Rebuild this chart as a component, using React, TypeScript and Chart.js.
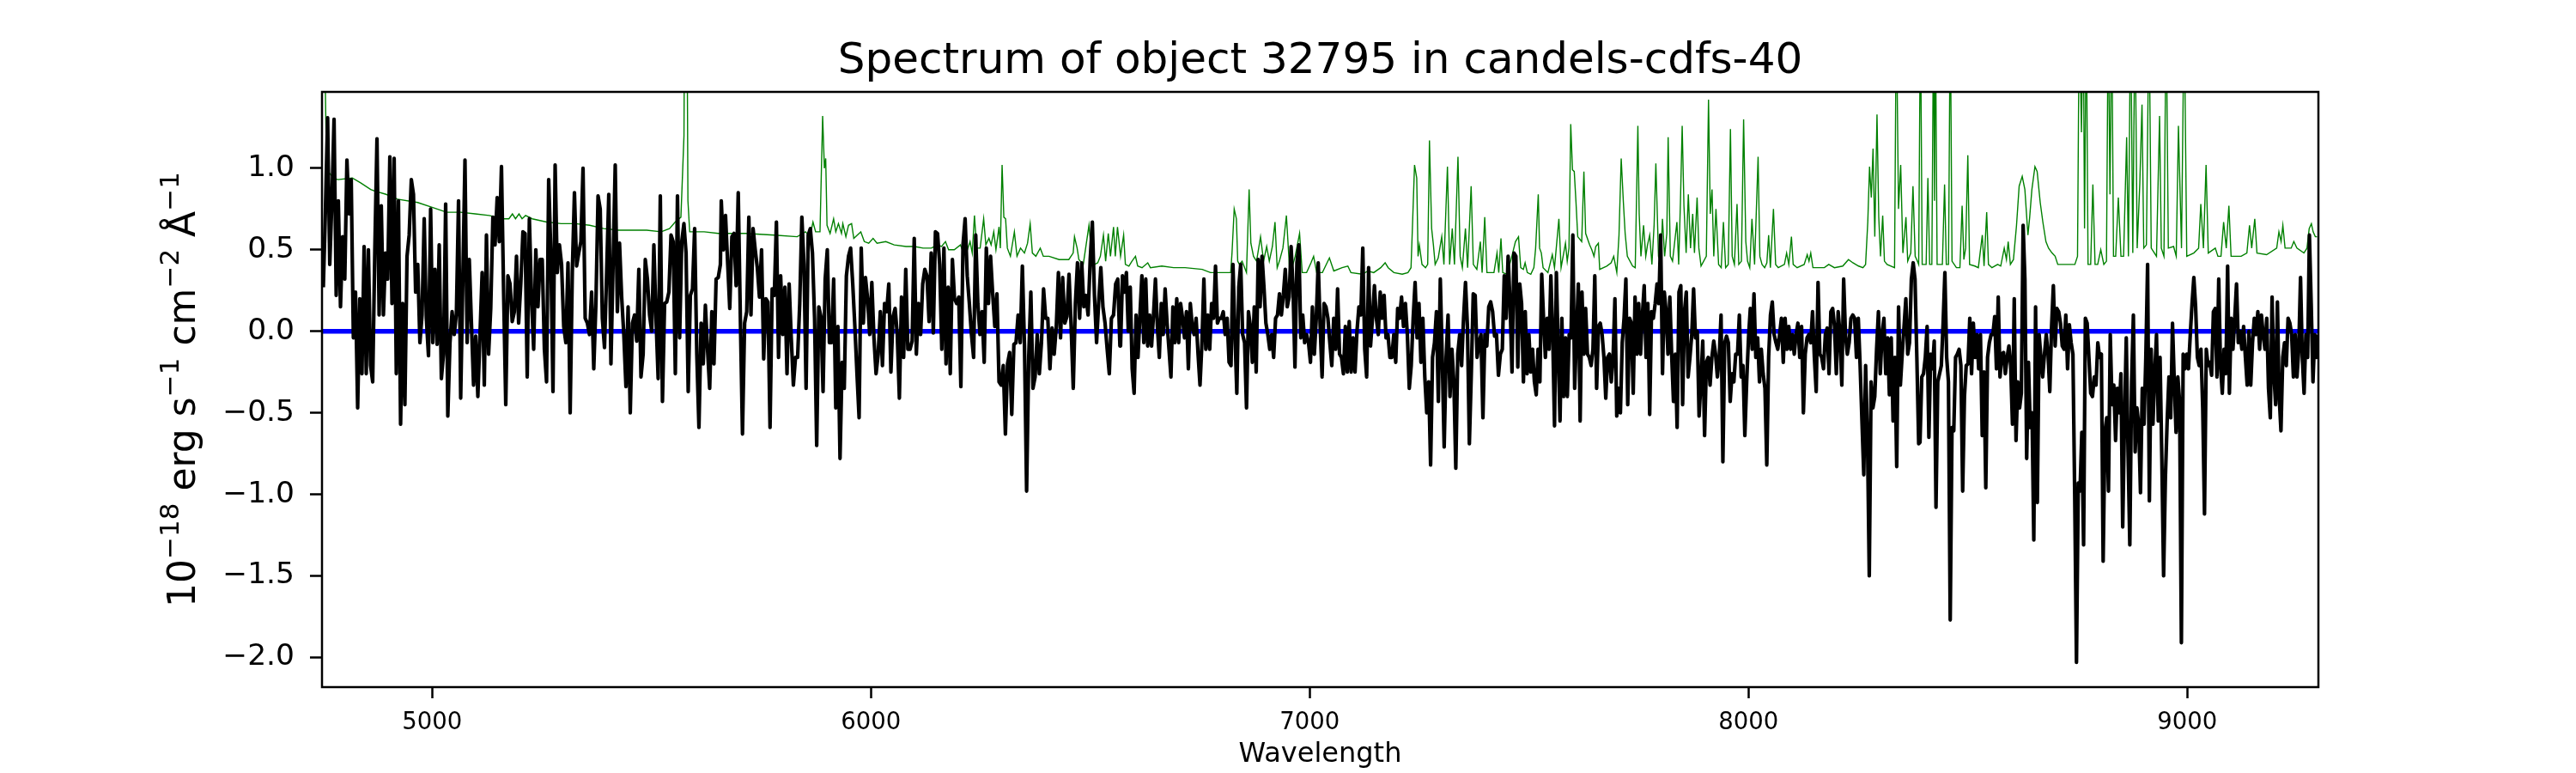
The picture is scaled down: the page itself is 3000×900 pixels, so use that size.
import { useEffect, useRef } from 'react'
import { Chart, registerables } from 'chart.js'

Chart.register(...registerables)

const FONT = '"DejaVu Sans", "Liberation Sans", sans-serif'
const TITLE = 'Spectrum of object 32795 in candels-cdfs-40'
const X_LABEL = 'Wavelength'
// y label pieces: [text, superscript?]
const Y_LABEL: [string, boolean][] = [
  ['10', false], ['\u221218', true], [' erg s', false], ['\u22121', true],
  [' cm', false], ['\u22122', true], [' \u00c5', false], ['\u22121', true],
]

const X_MIN = 4749
const X_MAX = 9299
const Y_MIN = -2.182
const Y_MAX = 1.468
const X_TICKS = [5000, 6000, 7000, 8000, 9000]
const Y_TICKS = [-2.0, -1.5, -1.0, -0.5, 0.0, 0.5, 1.0]

const SEG_START = [4752, 5659, 6569, 7483, 8391]
const SEG_END = [5657, 6567.5, 7478.8, 8388, 9298.8]

const FLUX_A = [
  0.27, 0.75, 1.31, 0.41, 0.8, 1.3, 0.22, 0.8, 0.15, 0.58, 0.32, 1.05, 0.72, 0.93, -0.04, 0.24, -0.47, 0.2, -0.26, 0.52,
  -0.26, 0.5, -0.21, -0.31, 0.5, 1.18, 0.1, 0.77, 0.1, 0.48, 0.32, 1.07, 0.17, 1.06, -0.26, 0.8, -0.57, 0.17, -0.45, 0.46,
  0.59, 0.93, 0.84, 0.24, 0.41, -0.07, 0.1, 0.69, 0.08, -0.15, 0.75, -0.07, 0.38, -0.08, 0.53, -0.29, -0.14, 0.78, -0.52, -0.07,
  0.12, -0.02, 0.11, 0.8, -0.41, 0.32, 1.05, -0.07, 0.44, 0.05, -0.33, -0.03, -0.4, -0.02, 0.36, -0.33, 0.59, -0.14, 0.14, 0.7,
  0.53, 0.82, 0.55, 1.01, 0.24, -0.45, 0.34, 0.29, 0.06, 0.12, 0.46, 0.05, 0.29, 0.61, 0.6, -0.28, 0.69, 0.21, -0.11, 0.5,
  0.15, 0.44, 0.44, -0.11, -0.31, 0.93, 0.48, -0.37, 1.02, 0.36, 0.53, 0.41, 0.03, -0.07, 0.42, -0.5, 0.36, 0.85, 0.4, 0.48,
  0.55, 1.0, 0.08, 0.05, -0.02, 0.24, -0.23, 0.17, 0.83, 0.75, 0.08, -0.1, 0.36, 0.84, -0.2, 0.41, 1.02, 0.12, 0.54, 0.21,
  -0.02, -0.34, 0.15, -0.5, 0.05, 0.1, -0.06, 0.38, -0.28, -0.14, 0.44, 0.32, 0.1, 0.0, 0.53, 0.08, -0.29, 0.83, -0.43, 0.17,
  0.18, 0.24, 0.59, 0.55, -0.26, 0.83, -0.04, 0.55, 0.66, 0.48, -0.37, 0.22, 0.26, 0.63, -0.14, -0.59, 0.05, -0.2, 0.16, -0.11,
  -0.35, 0.12, -0.2, 0.32, 0.33, 0.41,
]
const FLUX_B = [
  0.8, 0.5, 0.71, 0.42, 0.14, 0.58, 0.6, 0.28, 0.85, 0.08, -0.63, 0.05, 0.12, 0.7, 0.1, 0.63, 0.5, 0.39, 0.21, 0.5,
  -0.17, 0.2, 0.18, -0.59, 0.26, 0.22, 0.67, -0.16, 0.34, -0.02, 0.27, -0.26, 0.29, -0.04, -0.33, -0.16, -0.16, 0.17, 0.7, 0.41,
  -0.35, 0.59, 0.63, 0.48, 0.08, -0.7, 0.15, 0.09, -0.37, 0.32, 0.5, -0.07, -0.07, 0.32, -0.47, 0.03, -0.78, -0.19, -0.35, 0.34,
  0.46, 0.51, 0.29, 0.03, -0.26, -0.53, 0.51, 0.05, 0.33, 0.2, -0.02, 0.3, -0.04, -0.26, -0.14, 0.12, -0.21, 0.17, 0.12, 0.29,
  -0.25, 0.09, 0.14, -0.02, -0.41, 0.21, -0.16, 0.38, -0.11, -0.11, -0.06, 0.57, -0.14, 0.17, -0.02, 0.29, 0.38, 0.34, 0.06, 0.48,
  -0.01, 0.61, 0.6, 0.41, -0.11, 0.51, -0.2, 0.27, -0.26, 0.44, 0.2, 0.17, 0.21, -0.34, 0.53, 0.69, 0.34, 0.17, -0.02, -0.16,
  0.59, 0.17, -0.02, 0.12, -0.19, 0.51, 0.17, 0.46, 0.23, 0.03, 0.23, -0.31, -0.33, -0.21, -0.63, -0.2, -0.13, -0.51, -0.08, -0.07,
  0.1, -0.07, 0.4, -0.09, -0.98, -0.16, 0.24, -0.35, -0.28, -0.02, -0.26, -0.07, 0.26, 0.08, 0.08, -0.23, 0.02, -0.14, 0.03, 0.36,
  -0.04, 0.33, 0.05, 0.09, 0.35, 0.03, -0.35, 0.17, 0.42, 0.08, 0.42, 0.15, 0.22, 0.1, 0.44, 0.67, 0.22, -0.07, 0.18, 0.39,
  0.15, 0.05, -0.11, -0.26, 0.08, 0.1, 0.29, 0.32, -0.09,
]
const FLUX_C = [
  -0.09, 0.34, 0.24, 0.36, 0.0, 0.27, -0.23, -0.38, 0.1, -0.16, 0.1, 0.34, -0.07, 0.32, -0.09, 0.1, -0.09, 0.1, 0.32, 0.03,
  -0.16, 0.17, -0.02, 0.26, 0.05, -0.11, -0.28, 0.15, -0.07, 0.2, -0.07, 0.17, 0.08, -0.04, 0.12, -0.23, 0.17, 0.03, -0.02, 0.08,
  -0.14, -0.33, -0.07, 0.32, -0.11, 0.1, -0.11, 0.17, 0.08, 0.4, 0.05, 0.08, 0.08, 0.12, -0.02, 0.08, -0.19, -0.21, 0.41, 0.0,
  -0.38, 0.27, 0.41, -0.02, -0.07, -0.47, 0.12, 0.03, -0.19, 0.15, -0.25, 0.44, 0.15, 0.46, 0.27, 0.05, -0.02, -0.11, -0.02, -0.16,
  0.08, 0.1, 0.23, 0.1, 0.22, 0.38, 0.15, 0.21, 0.52, 0.27, -0.22, 0.42, 0.53, -0.04, 0.1, -0.07, -0.02, -0.07, -0.19, 0.15,
  -0.14, 0.08, 0.42, 0.03, -0.28, 0.17, 0.15, 0.08, -0.07, -0.21, 0.08, -0.11, 0.26, -0.14, -0.16, -0.26, 0.03, -0.25, 0.06, -0.25,
  -0.04, -0.25, 0.0, 0.15, 0.1, 0.51, -0.11, -0.28, 0.39, -0.09, 0.08, 0.28, 0.08, -0.02, 0.24, 0.08, 0.22, -0.04, -0.02, -0.16,
  -0.16, -0.02, -0.19, 0.14, 0.08, 0.21, 0.03, 0.17, -0.02, -0.35, -0.21, 0.08, 0.3, -0.04, 0.17, -0.19, 0.08, -0.28, -0.5, -0.31,
  -0.82, -0.16, -0.07, 0.12, -0.43, 0.32, -0.16, -0.71, -0.16, 0.1, -0.4, -0.11, -0.31, -0.84, -0.14, -0.02, -0.21, 0.08, 0.3, 0.03,
  -0.69, -0.26, 0.23, 0.22, -0.16, -0.07, -0.02, -0.53, -0.02, -0.09, 0.15, 0.18, 0.12, -0.03, -0.02, -0.27, -0.14, -0.11, 0.34, 0.08,
  0.46, 0.17, -0.25, 0.48, 0.46, -0.22, 0.29,
]
const FLUX_D = [
  0.17, -0.31, 0.12, -0.26, -0.02, -0.25, -0.11, -0.31, -0.39, -0.11, -0.31, 0.35, 0.08, -0.16, 0.08, -0.11, 0.34, -0.02, -0.58, 0.36,
  -0.11, -0.55, 0.08, -0.4, -0.04, -0.4, -0.02, -0.04, 0.59, -0.35, -0.02, 0.29, -0.55, 0.24, -0.14, 0.14, -0.14, -0.16, -0.21, -0.11,
  0.34, -0.35, 0.03, 0.05, -0.02, -0.16, -0.41, -0.16, -0.14, -0.31, -0.16, 0.2, -0.52, -0.35, -0.5, -0.07, 0.08, 0.32, -0.45, 0.08,
  0.05, -0.38, 0.21, -0.14, 0.17, -0.14, 0.1, 0.28, -0.16, 0.17, -0.51, 0.12, 0.08, 0.17, 0.29, 0.17, 0.59, -0.26, 0.24, 0.12,
  -0.14, 0.21, -0.14, -0.43, -0.14, -0.59, 0.24, 0.28, -0.45, 0.12, 0.24, -0.28, -0.16, -0.02, 0.26, -0.04, 0.0, -0.52, -0.31, -0.06,
  -0.64, -0.19, -0.16, -0.33, -0.16, -0.06, -0.14, -0.28, -0.16, 0.1, -0.8, -0.07, -0.03, -0.07, -0.43, -0.26, -0.31, -0.14, -0.14, 0.1,
  -0.28, -0.21, -0.64, -0.31, -0.04, 0.14, -0.11, 0.23, -0.16, -0.04, -0.31, -0.11, -0.26, -0.35, -0.82, -0.16, 0.1, 0.18, -0.02, -0.07,
  -0.11, -0.02, 0.08, -0.19, 0.08, -0.11, 0.03, -0.11, -0.02, -0.14, -0.02, 0.05, -0.16, 0.03, -0.5, -0.14, -0.04, -0.02, -0.07, 0.12,
  -0.16, -0.37, 0.3, -0.14, -0.16, -0.23, -0.02, 0.02, -0.26, 0.12, 0.14, 0.03, -0.26, 0.12, -0.02, -0.33, 0.32, -0.02, -0.14, -0.07,
  0.08, 0.1, 0.08, -0.16, 0.08, -0.21, -0.55, -0.88, -0.21, -0.64, -1.5, -0.31, -0.47, -0.4, -0.11, 0.12, -0.26, -0.02, 0.08, -0.26,
  -0.04, -0.39, -0.04, -0.55, -0.16, -0.83, 0.15, -0.33, -0.14, 0.03, 0.2, -0.14, -0.07, 0.32, 0.42, 0.32, -0.16, -0.69,
]
const FLUX_E = [
  -0.68, -0.28, -0.26, -0.16, 0.03, -0.65, -0.14, -0.23, -0.06, -1.08, -0.31, -0.26, -0.21, 0.05, 0.36, -0.16, -0.31, -1.77, -0.59, -0.61,
  -0.16, -0.14, -0.11, -0.21, -0.98, -0.4, -0.21, -0.2, 0.08, -0.26, 0.05, -0.16, -0.02, -0.23, -0.02, -0.64, -0.25, -0.96, -0.16, -0.07,
  -0.02, -0.02, 0.09, -0.23, 0.21, -0.28, -0.14, -0.13, -0.26, -0.16, -0.09, -0.21, -0.57, 0.2, -0.67, -0.31, -0.47, -0.38, 0.65, 0.32,
  -0.78, -0.19, -0.59, -0.5, -1.28, 0.15, -1.05, -0.02, -0.16, -0.28, -0.14, -0.02, -0.14, -0.37, 0.03, 0.28, -0.09, 0.14, 0.12, 0.05,
  -0.09, -0.11, 0.1, -0.23, 0.04, -0.07, -0.14, -1.0, -2.03, -0.93, -0.98, -0.62, -1.31, 0.08, 0.05, -0.16, -0.38, -0.4, -0.28, -0.33,
  -0.07, -0.16, -0.14, -1.41, -0.62, -0.53, -0.98, -0.02, -0.45, -0.33, -0.67, -0.35, -0.5, -0.26, -1.2, -0.55, -0.04, -0.74, -1.31, -0.31,
  0.1, -0.74, -0.47, -0.57, -0.99, -0.35, -0.57, -0.16, 0.41, -1.04, -0.11, -0.57, -0.26, -0.02, -0.55, -0.16, -0.78, -1.5, -0.9, -0.55,
  -0.28, -0.53, 0.05, -0.31, -0.62, -0.28, -0.43, -1.91, -0.14, -0.23, -0.14, -0.23, -0.02, 0.17, 0.33, 0.15, -0.16, -0.21, -0.11, -0.47,
  -1.12, -0.11, -0.21, -0.19, -0.27, 0.12, 0.14, -0.28, 0.32, -0.21, -0.38, -0.11, -0.26, 0.4, -0.38, 0.08, -0.11, 0.08, 0.29, -0.07,
  0.0, -0.11, 0.03, -0.16, -0.33, 0.0, -0.33, -0.07, 0.08, -0.02, 0.12, -0.11, 0.1, -0.02, -0.11, 0.08, -0.35, -0.53, 0.21, -0.26,
  -0.45, 0.18, -0.4, -0.61, -0.16, -0.07, -0.21, 0.08, 0.05, -0.02, -0.28, -0.02, -0.28, -0.11, 0.33, -0.16, -0.38, -0.02, -0.16, 0.59,
  0.17, -0.31, -0.02, -0.16, -0.02,
]
const FLUX_SEGMENTS = [FLUX_A, FLUX_B, FLUX_C, FLUX_D, FLUX_E]

// error / sky spectrum (green): wavelength and value pairs
const ERR_WAVE = [
  4749, 4756, 4759, 4763, 4775, 4785, 4818, 4837, 4860, 4869, 4895, 4921, 4967, 5000, 5033, 5065, 5098, 5130, 5163, 5175,
  5183, 5190, 5198, 5205, 5213, 5228, 5261, 5294, 5326, 5359, 5391, 5424, 5457, 5489, 5522, 5541, 5554, 5567, 5574, 5576,
  5580, 5583, 5587, 5620, 5652, 5714, 5780, 5832, 5851, 5861, 5868, 5874, 5884, 5890, 5894, 5897, 5900, 5907, 5915, 5920,
  5926, 5933, 5936, 5943, 5949, 5956, 5961, 5969, 5977, 5985, 5995, 6005, 6014, 6034, 6053, 6080, 6099, 6119, 6138, 6151,
  6161, 6170, 6177, 6190, 6204, 6211, 6220, 6226, 6231, 6236, 6241, 6249, 6257, 6262, 6269, 6274, 6280, 6285, 6292, 6295,
  6299, 6303, 6307, 6311, 6318, 6327, 6333, 6341, 6350, 6357, 6363, 6368, 6376, 6386, 6393, 6406, 6429, 6451, 6461, 6464,
  6470, 6474, 6484, 6497, 6504, 6510, 6517, 6523, 6530, 6535, 6541, 6546, 6553, 6557, 6562, 6569, 6576, 6580, 6588, 6595,
  6603, 6608, 6618, 6631, 6637, 6663, 6690, 6716, 6755, 6774, 6820, 6823, 6828, 6833, 6836, 6840, 6846, 6856, 6862, 6866,
  6872, 6879, 6888, 6895, 6902, 6908, 6915, 6921, 6926, 6931, 6939, 6947, 6954, 6960, 6967, 6977, 6983, 6993, 7003, 7009,
  7016, 7029, 7045, 7055, 7074, 7087, 7094, 7120, 7133, 7146, 7162, 7172, 7179, 7192, 7211, 7224, 7231, 7235, 7239, 7244,
  7247, 7250, 7256, 7264, 7269, 7273, 7278, 7282, 7286, 7293, 7301, 7306, 7314, 7319, 7325, 7330, 7338, 7343, 7348, 7355,
  7360, 7368, 7373, 7381, 7389, 7393, 7399, 7404, 7420, 7427, 7431, 7436, 7440, 7449, 7459, 7469, 7476, 7481, 7487, 7491,
  7496, 7504, 7511, 7515, 7521, 7524, 7528, 7532, 7543, 7553, 7558, 7568, 7573, 7583, 7587, 7591, 7595, 7599, 7603, 7607,
  7611, 7620, 7625, 7629, 7638, 7643, 7648, 7652, 7658, 7661, 7677, 7687, 7693, 7700, 7705, 7710, 7715, 7719, 7724, 7736,
  7742, 7748, 7751, 7755, 7761, 7766, 7770, 7775, 7780, 7785, 7789, 7795, 7800, 7804, 7809, 7814, 7817, 7822, 7827, 7832,
  7837, 7841, 7845, 7849, 7853, 7858, 7863, 7868, 7873, 7877, 7883, 7887, 7892, 7904, 7909, 7913, 7917, 7921, 7926, 7932,
  7938, 7943, 7948, 7954, 7959, 7963, 7968, 7974, 7978, 7984, 7989, 7994, 7998, 8003, 8008, 8014, 8022, 8026, 8031, 8037,
  8042, 8046, 8050, 8057, 8062, 8068, 8082, 8087, 8092, 8098, 8102, 8111, 8127, 8134, 8138, 8142, 8147, 8173, 8183, 8196,
  8215, 8228, 8238, 8251, 8261, 8267, 8272, 8276, 8280, 8284, 8288, 8293, 8297, 8301, 8306, 8310, 8316, 8333, 8337, 8342,
  8347, 8352, 8359, 8363, 8370, 8375, 8380, 8385, 8388, 8392, 8396, 8405, 8409, 8413, 8418, 8422, 8424, 8426, 8430, 8442,
  8447, 8451, 8456, 8460, 8464, 8474, 8482, 8487, 8491, 8495, 8500, 8504, 8516, 8524, 8533, 8537, 8543, 8547, 8555, 8568,
  8575, 8583, 8588, 8592, 8597, 8604, 8611, 8617, 8624, 8630, 8637, 8641, 8646, 8653, 8658, 8665, 8671, 8678, 8684, 8692,
  8699, 8705, 8725, 8744, 8750, 8754, 8759, 8763, 8766, 8770, 8774, 8780, 8785, 8790, 8796, 8803, 8810, 8816, 8820, 8824,
  8828, 8832, 8837, 8843, 8849, 8855, 8862, 8866, 8871, 8876, 8881, 8886, 8892, 8897, 8901, 8907, 8913, 8918, 8930, 8937,
  8941, 8947, 8952, 8957, 8969, 8975, 8980, 8987, 8993, 8999, 9015, 9026, 9031, 9037, 9043, 9048, 9064, 9070, 9077, 9083,
  9089, 9095, 9100, 9123, 9136, 9142, 9147, 9154, 9159, 9181, 9204, 9209, 9214, 9218, 9223, 9237, 9243, 9250, 9266, 9273,
  9278, 9283, 9287, 9292, 9296,
]
const ERR_FLUX = [
  2.0, 1.6, 1.07, 0.98, 0.94, 0.93, 0.94, 0.91, 0.87, 0.86, 0.84, 0.81, 0.79, 0.76, 0.73, 0.73, 0.72, 0.71, 0.69, 0.69,
  0.72, 0.69, 0.72, 0.69, 0.71, 0.69, 0.67, 0.66, 0.66, 0.65, 0.63, 0.62, 0.62, 0.62, 0.61, 0.63, 0.67, 0.7, 1.2, 2.5,
  2.5, 0.8, 0.61, 0.61, 0.6, 0.6, 0.59, 0.58, 0.61, 0.58, 0.67, 0.61, 0.61, 1.32, 1.0, 1.06, 0.65, 0.6, 0.69, 0.61,
  0.66, 0.6, 0.66, 0.58, 0.65, 0.66, 0.57, 0.59, 0.61, 0.55, 0.54, 0.57, 0.54, 0.55, 0.53, 0.52, 0.52, 0.51, 0.51, 0.53,
  0.52, 0.55, 0.5, 0.5, 0.53, 0.48, 0.5, 0.55, 0.48, 0.71, 0.51, 0.51, 0.69, 0.53, 0.57, 0.53, 0.61, 0.5, 0.64, 0.51,
  1.02, 0.7, 0.69, 0.51, 0.46, 0.61, 0.46, 0.51, 0.48, 0.54, 0.66, 0.48, 0.46, 0.51, 0.46, 0.46, 0.44, 0.44, 0.48, 0.58,
  0.51, 0.44, 0.41, 0.65, 0.44, 0.41, 0.42, 0.46, 0.59, 0.43, 0.6, 0.46, 0.64, 0.46, 0.64, 0.46, 0.59, 0.41, 0.4, 0.43,
  0.46, 0.4, 0.39, 0.42, 0.39, 0.4, 0.39, 0.39, 0.38, 0.36, 0.36, 0.48, 0.75, 0.69, 0.43, 0.41, 0.43, 0.36, 0.87, 0.54,
  0.46, 0.43, 0.58, 0.43, 0.52, 0.43, 0.52, 0.67, 0.39, 0.43, 0.51, 0.71, 0.39, 0.39, 0.46, 0.6, 0.36, 0.36, 0.42, 0.46,
  0.36, 0.36, 0.45, 0.37, 0.39, 0.4, 0.36, 0.35, 0.37, 0.36, 0.39, 0.42, 0.39, 0.36, 0.35, 0.36, 0.39, 0.7, 1.02, 0.94,
  0.46, 0.53, 0.41, 0.39, 0.41, 1.17, 0.63, 0.53, 0.41, 0.45, 0.58, 0.41, 1.01, 0.41, 0.63, 0.41, 1.07, 0.46, 0.39, 0.63,
  0.39, 0.89, 0.41, 0.38, 0.55, 0.36, 0.7, 0.36, 0.36, 0.48, 0.36, 0.57, 0.36, 0.35, 0.44, 0.55, 0.58, 0.39, 0.38, 0.42,
  0.36, 0.35, 0.39, 0.51, 0.84, 0.51, 0.48, 0.39, 0.36, 0.47, 0.39, 0.69, 0.39, 0.54, 0.43, 0.51, 1.27, 0.99, 0.98, 0.79,
  0.58, 0.55, 0.98, 0.6, 0.53, 0.5, 0.46, 0.52, 0.54, 0.38, 0.4, 0.42, 0.46, 0.36, 0.59, 1.06, 0.79, 0.6, 0.46, 0.4,
  0.39, 1.26, 0.72, 0.46, 0.65, 0.46, 0.53, 0.59, 0.41, 0.65, 1.03, 0.46, 0.42, 0.69, 0.46, 0.6, 1.19, 0.46, 0.43, 0.55,
  0.67, 0.41, 0.79, 1.26, 0.77, 0.48, 0.84, 0.51, 0.72, 0.48, 0.82, 0.51, 0.4, 0.46, 1.42, 0.72, 0.87, 0.46, 0.75, 0.41,
  0.39, 0.67, 0.39, 0.41, 1.24, 0.46, 0.41, 0.78, 0.41, 0.43, 1.3, 0.55, 0.43, 0.39, 0.69, 0.41, 1.07, 0.46, 0.41, 0.39,
  0.42, 0.59, 0.39, 0.75, 0.41, 0.39, 0.41, 0.48, 0.41, 0.58, 0.41, 0.39, 0.41, 0.47, 0.43, 0.48, 0.39, 0.39, 0.41, 0.39,
  0.4, 0.44, 0.42, 0.4, 0.39, 0.41, 0.67, 1.01, 0.82, 1.12, 0.58, 1.33, 0.7, 0.46, 0.71, 0.43, 0.41, 0.39, 2.0, 0.75,
  1.02, 0.48, 0.7, 0.43, 0.48, 0.89, 0.46, 0.43, 0.41, 2.0, 0.41, 0.41, 0.94, 0.41, 0.41, 2.0, 0.8, 2.0, 0.41, 0.41,
  0.9, 0.41, 0.41, 2.0, 0.43, 0.39, 0.39, 0.77, 0.44, 0.51, 1.08, 0.41, 0.4, 0.39, 0.59, 0.4, 0.73, 0.41, 0.39, 0.41,
  0.4, 0.51, 0.44, 0.55, 0.41, 0.44, 0.65, 0.89, 0.95, 0.87, 0.59, 0.7, 0.87, 1.01, 0.98, 0.79, 0.67, 0.55, 0.51, 0.48,
  0.46, 0.41, 0.41, 0.41, 0.46, 2.0, 1.22, 2.0, 0.63, 2.0, 0.41, 0.41, 0.9, 0.41, 0.41, 0.5, 0.41, 0.43, 2.0, 0.84,
  2.0, 0.46, 0.46, 0.82, 0.46, 0.46, 1.19, 0.46, 2.0, 0.48, 2.0, 0.51, 0.91, 1.39, 0.51, 0.53, 2.0, 0.51, 0.46, 1.32,
  0.51, 0.46, 2.0, 0.51, 0.52, 0.46, 1.26, 0.51, 2.0, 0.46, 0.48, 0.51, 0.78, 0.51, 1.02, 0.48, 0.51, 0.46, 0.46, 0.67,
  0.51, 0.77, 0.46, 0.46, 0.48, 0.65, 0.51, 0.69, 0.48, 0.47, 0.51, 0.61, 0.55, 0.65, 0.51, 0.51, 0.55, 0.51, 0.48, 0.51,
  0.63, 0.66, 0.61, 0.58, 0.58,
]

// zero reference line
const ZERO_WAVE = [X_MIN, X_MAX]
const ZERO_FLUX = [0, 0]

function fluxPoints() {
  const pts: { x: number; y: number }[] = []
  FLUX_SEGMENTS.forEach((seg, s) => {
    const step = (SEG_END[s] - SEG_START[s]) / (seg.length - 1)
    seg.forEach((v, i) => pts.push({ x: SEG_START[s] + i * step, y: v }))
  })
  return pts
}

const pairs = (xs: number[], ys: number[]) => xs.map((x, i) => ({ x, y: ys[i] }))

// frame (four spines), title and axis labels
const textPlugin = {
  id: 'mplText',
  afterDraw(chart: any) {
    const { ctx: c, chartArea: a } = chart
    const cx = (a.left + a.right) / 2
    c.save()
    c.strokeStyle = '#000'
    c.lineWidth = 2.5
    c.strokeRect(a.left, a.top, a.right - a.left, a.bottom - a.top)

    c.fillStyle = '#000'
    c.textAlign = 'center'
    c.textBaseline = 'alphabetic'
    c.font = `50px ${FONT}`
    c.fillText(TITLE, cx, a.top - 22)
    c.font = `32px ${FONT}`
    c.fillText(X_LABEL, cx, a.bottom + 87)

    // rotated y label with superscripts
    const big = `44px ${FONT}`, small = `31px ${FONT}`
    let total = 0
    Y_LABEL.forEach(([t, sup]) => { c.font = sup ? small : big; total += c.measureText(t).width })
    c.translate(227, (a.top + a.bottom) / 2)
    c.rotate(-Math.PI / 2)
    c.textAlign = 'left'
    let x = -total / 2
    Y_LABEL.forEach(([t, sup]) => {
      c.font = sup ? small : big
      c.fillText(t, x, sup ? -19 : 0)
      x += c.measureText(t).width
    })
    c.restore()
  },
}

export default function App() {
  const canvasRef = useRef<HTMLCanvasElement>(null)

  useEffect(() => {
    if (!canvasRef.current) return
    const tickGrid = { display: true, drawOnChartArea: false, drawTicks: true, tickLength: 13, tickWidth: 2.5, tickColor: '#000' }

    const chart = new Chart(canvasRef.current, {
      type: 'line',
      plugins: [textPlugin],
      data: {
        datasets: [
          {
            label: 'flux',
            data: fluxPoints(),
            borderColor: '#000000',
            borderWidth: 4.2,
            borderJoinStyle: 'round',
            pointRadius: 0,
            tension: 0,
            order: 0,
          },
          {
            label: 'error',
            data: pairs(ERR_WAVE, ERR_FLUX),
            borderColor: '#008000',
            borderWidth: 1.4,
            pointRadius: 0,
            tension: 0,
            order: 1,
          },
          {
            label: 'zero',
            data: pairs(ZERO_WAVE, ZERO_FLUX),
            borderColor: '#0000ff',
            borderWidth: 5.6,
            pointRadius: 0,
            order: 2,
          },
        ],
      },
      options: {
        responsive: true,
        maintainAspectRatio: false,
        animation: false,
        devicePixelRatio: 1,
        layout: { padding: { left: 0, top: 107, right: 300, bottom: 0 } },
        plugins: { legend: { display: false }, tooltip: { enabled: false } },
        scales: {
          x: {
            type: 'linear',
            position: 'bottom',
            min: X_MIN,
            max: X_MAX,
            afterBuildTicks: (s: any) => { s.ticks = X_TICKS.map(v => ({ value: v })) },
            afterFit: (s: any) => { s.height = 100 },
            ticks: {
              autoSkip: false,
              maxRotation: 0,
              padding: 12,
              color: '#000',
              font: { family: FONT, size: 27.5 },
              callback: (v: any) => String(v),
            },
            grid: tickGrid,
            border: { display: false },
          },
          y: {
            type: 'linear',
            min: Y_MIN,
            max: Y_MAX,
            afterBuildTicks: (s: any) => { s.ticks = Y_TICKS.map(v => ({ value: v })) },
            afterFit: (s: any) => { s.width = 375 },
            ticks: {
              autoSkip: false,
              padding: 18,
              color: '#000',
              font: { family: FONT, size: 34.5 },
              callback: (v: any) => Number(v).toFixed(1).replace('-', '\u2212'),
            },
            grid: { ...tickGrid, tickLength: 14 },
            border: { display: false },
          },
        },
      },
    } as any)

    return () => chart.destroy()
  }, [])

  return (
    <div style={{ position: 'absolute', left: 0, top: 0, width: 3000, height: 900, background: '#fff' }}>
      <canvas ref={canvasRef} />
    </div>
  )
}
